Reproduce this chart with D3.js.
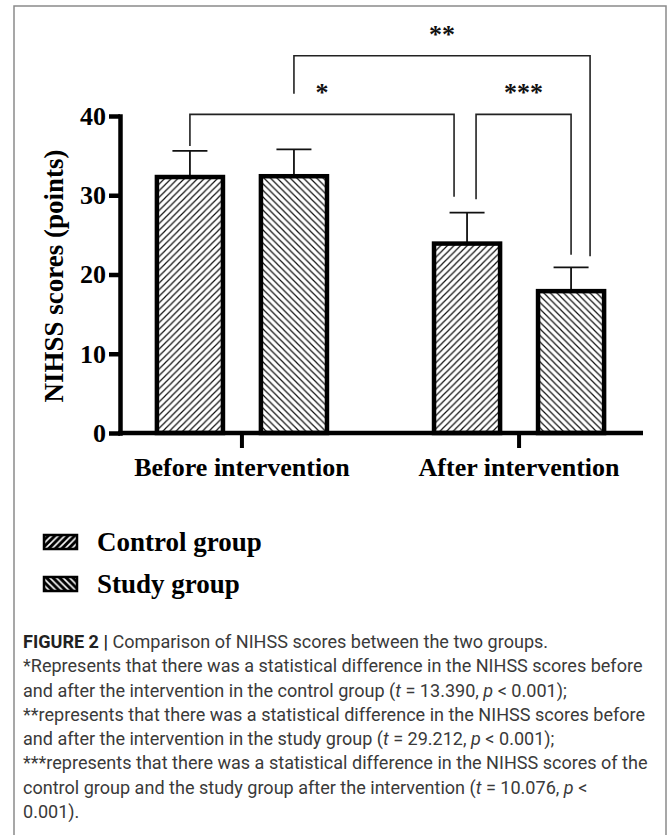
<!DOCTYPE html>
<html>
<head>
<meta charset="utf-8">
<script src="https://cdn.jsdelivr.net/npm/d3@7"></script>
<style>
body{margin:0;background:#fff}
svg{display:block}
</style>
</head>
<body>
<svg id="chart" width="669" height="835"></svg>
<script>
var categories = ["Before intervention", "After intervention"];
var series = ["Control group", "Study group"];
var control_means = [32.3, 23.9];
var control_sd = [3.3, 3.9];
var study_means = [32.4, 17.9];
var study_sd = [3.4, 3.0];
var y_ticks = [0, 10, 20, 30, 40];

// significance brackets: ends are [category, series], level and leg ends in score units
var bracket_labels = ["*", "***", "**"];
var bracket_ends = [[[0, 0], [1, 0]], [[1, 0], [1, 1]], [[0, 1], [1, 1]]];
var bracket_levels = [40.2, 40.2, 47.6];
var bracket_legs = [[36.2, 29.8], [29.5, 22.5], [42.8, 22.3]];
var bracket_shift = [[0, -13], [9, 0], [0, 19]];

var caption_lines = [
    [["FIGURE 2 |", "b"], [" Comparison of NIHSS scores between the two groups.", ""]],
    [["*Represents that there was a statistical difference in the NIHSS scores before", ""]],
    [["and after the intervention in the control group (", ""], ["t", "i"], [" = 13.390, ", ""], ["p", "i"], [" < 0.001);", ""]],
    [["**represents that there was a statistical difference in the NIHSS scores before", ""]],
    [["and after the intervention in the study group (", ""], ["t", "i"], [" = 29.212, ", ""], ["p", "i"], [" < 0.001);", ""]],
    [["***represents that there was a statistical difference in the NIHSS scores of the", ""]],
    [["control group and the study group after the intervention (", ""], ["t", "i"], [" = 10.076, ", ""], ["p", "i"], [" <", ""]],
    [["0.001).", ""]]
];

var means = [control_means, study_means];
var sds = [control_sd, study_sd];

var svg = d3.select("#chart");
var serif = "'Liberation Serif','Times New Roman',serif";

// frame
svg.append("rect")
    .attr("x", 14).attr("y", 6)
    .attr("width", 652).attr("height", 840)
    .attr("fill", "none")
    .attr("stroke", "#8a8a8a")
    .attr("stroke-width", 1.5);

var defs = svg.append("defs");
function hatch(id, d, bg, fg, size, sw){
    var p = defs.append("pattern")
        .attr("id", id)
        .attr("patternUnits", "userSpaceOnUse")
        .attr("width", size).attr("height", size);
    p.append("rect").attr("width", size).attr("height", size).attr("fill", bg);
    p.append("path").attr("d", d).attr("stroke", fg).attr("stroke-width", sw);
}
var s = 6.6;
var up = "M-1,1L1,-1M0," + s + "L" + s + ",0M" + (s - 1) + "," + (s + 1) + "L" + (s + 1) + "," + (s - 1);
var down = "M-1," + (s - 1) + "L1," + (s + 1) + "M0,0L" + s + "," + s + "M" + (s - 1) + ",-1L" + (s + 1) + ",1";
hatch("hatch0", up, "#fff", "#111", s, 1.2);
hatch("hatch1", down, "#fff", "#111", s, 1.2);
hatch("leg0", up, "#000", "#fff", s, 1.6);
hatch("leg1", down, "#000", "#fff", s, 1.6);

var y = d3.scaleLinear().domain([0, 40]).range([433, 116]);
var x0 = d3.scaleBand().domain(categories).range([120, 641])
    .paddingInner(0.3).paddingOuter(0.09);
var x1 = d3.scaleBand().domain(series).range([0, x0.bandwidth()])
    .paddingInner(0.365).paddingOuter(0.115);

var rows = [];
categories.forEach(function(c, i){
    series.forEach(function(sname, j){
        rows.push({cat: c, ser: sname, ci: i, si: j, v: means[j][i], sd: sds[j][i]});
    });
});
function cx(ci, si){
    return x0(categories[ci]) + x1(series[si]) + x1.bandwidth() / 2;
}

// error bars
var eb = svg.append("g").attr("stroke", "#111").attr("stroke-width", 1.8);
rows.forEach(function(d){
    var c = cx(d.ci, d.si);
    eb.append("line").attr("x1", c).attr("x2", c)
        .attr("y1", y(d.v)).attr("y2", y(d.v + d.sd));
    eb.append("line").attr("x1", c - 17.5).attr("x2", c + 17.5)
        .attr("y1", y(d.v + d.sd)).attr("y2", y(d.v + d.sd));
});

// bars
svg.append("g").selectAll("rect")
    .data(rows)
    .enter()
    .append("rect")
    .attr("x", function(d){ return x0(d.cat) + x1(d.ser); })
    .attr("y", function(d){ return y(d.v); })
    .attr("width", x1.bandwidth())
    .attr("height", function(d){ return y(0) - y(d.v); })
    .attr("fill", function(d){ return "url(#hatch" + d.si + ")"; })
    .attr("stroke", "#000")
    .attr("stroke-width", 4.5);

// axes
var yAxis = svg.append("g")
    .attr("transform", "translate(120,0)")
    .call(d3.axisLeft(y).tickValues(y_ticks).tickSize(11).tickSizeOuter(0).tickPadding(3));
yAxis.select(".domain").attr("stroke-width", 4.5).attr("stroke-linecap", "square");
yAxis.selectAll(".tick line").attr("stroke-width", 4.5);
yAxis.selectAll(".tick text")
    .attr("font-family", serif).attr("font-weight", "bold").attr("font-size", 26)
    .attr("fill", "#000");

var xAxis = svg.append("g")
    .attr("transform", "translate(0,433)")
    .call(d3.axisBottom(x0).tickSize(15).tickSizeOuter(0).tickPadding(10));
xAxis.select(".domain").attr("d", "M118,0H643").attr("stroke-width", 4.5);
xAxis.selectAll(".tick line").attr("stroke-width", 4);
xAxis.selectAll(".tick text")
    .attr("font-family", serif).attr("font-weight", "bold").attr("font-size", 26)
    .attr("fill", "#000");

svg.append("text")
    .attr("transform", "translate(63,276) rotate(-90)")
    .attr("text-anchor", "middle")
    .attr("font-family", serif).attr("font-weight", "bold").attr("font-size", 27)
    .text("NIHSS scores (points)");

// brackets
var br = svg.append("g");
bracket_labels.forEach(function(lab, k){
    var a = bracket_ends[k][0], b = bracket_ends[k][1];
    var xa = cx(a[0], a[1]) + bracket_shift[k][0];
    var xb = cx(b[0], b[1]) + bracket_shift[k][1];
    var top = y(bracket_levels[k]);
    br.append("path")
        .attr("d", "M" + xa + "," + y(bracket_legs[k][0]) + "V" + top + "H" + xb + "V" + y(bracket_legs[k][1]))
        .attr("fill", "none").attr("stroke", "#222").attr("stroke-width", 1.6);
    br.append("text")
        .attr("x", (xa + xb) / 2)
        .attr("y", top - 13)
        .attr("text-anchor", "middle")
        .attr("font-family", serif).attr("font-weight", "bold").attr("font-size", 26)
        .attr("fill", "#111")
        .text(lab);
});

// legend
var lg = svg.append("g");
series.forEach(function(sname, j){
    var yy = 535 + j * 42;
    lg.append("rect").attr("x", 44).attr("y", yy).attr("width", 33).attr("height", 14)
        .attr("fill", "url(#leg" + j + ")").attr("stroke", "#000").attr("stroke-width", 2.5);
    lg.append("text").attr("x", 97).attr("y", yy + 16)
        .attr("font-family", serif).attr("font-weight", "bold").attr("font-size", 27)
        .text(sname);
});

// caption
var cap = svg.append("g");
caption_lines.forEach(function(parts, i){
    var t = cap.append("text")
        .attr("x", 0).attr("y", 648 + i * 24.3)
        .attr("font-family", "Roboto, 'Liberation Sans', sans-serif")
        .attr("font-size", 18.5)
        .attr("fill", "#3a3a3a");
    parts.forEach(function(p){
        var ts = t.append("tspan").text(p[0]);
        if (p[1] == "b") ts.attr("font-weight", "bold").attr("fill", "#222");
        if (p[1] == "i") ts.attr("font-style", "italic");
    });
});
var widest = cap.selectAll("text").nodes()[1].getComputedTextLength();
var f = 620 / widest;
cap.attr("transform", "translate(23,0) scale(" + f + ",1)");
</script>
</body>
</html>
